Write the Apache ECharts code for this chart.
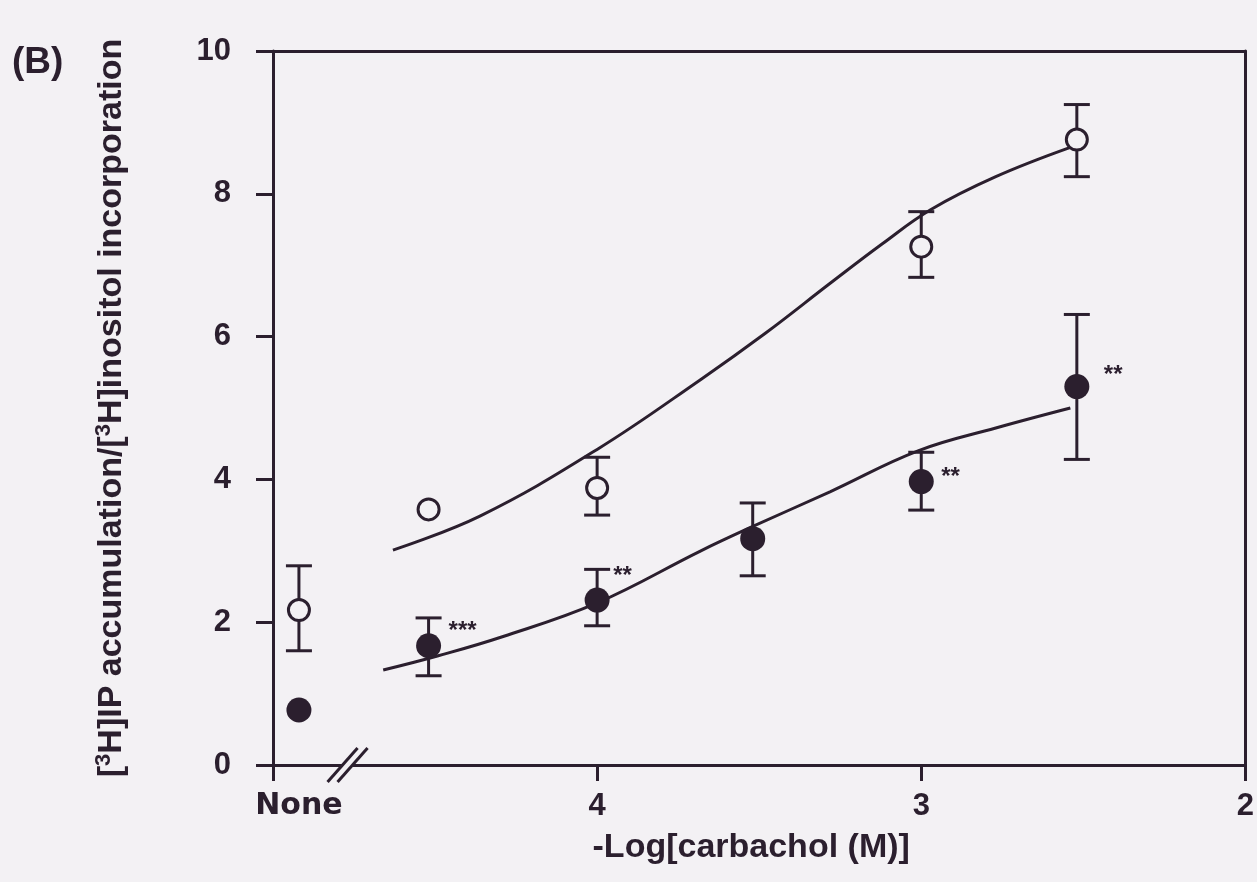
<!DOCTYPE html>
<html><head><meta charset="utf-8">
<script src="https://cdn.jsdelivr.net/npm/echarts@6/dist/echarts.min.js"></script>
<style>html,body{margin:0;padding:0;background:#f3f1f4}#c{width:1257px;height:882px}</style>
</head><body><div id="c"></div>
<script>
// ---- data ----
const xTickValues = [5, 4, 3, 2];
const xLabelValues = [4.92, 4, 3, 2];
const xLabelTexts = ['None', '4', '3', '2'];
const yTickInterval = 2;
const axisBreakAt = [4.77];

const openX = [4.92, 4.52, 4, 3, 2.52];
const openY = [2.17, 3.58, 3.88, 7.26, 8.76];
const openLow = [1.6, null, 3.5, 6.83, 8.24];
const openHigh = [2.79, null, 4.31, 7.75, 9.25];

const filledX = [4.92, 4.52, 4, 3.52, 3, 2.52];
const filledY = [0.77, 1.67, 2.31, 3.17, 3.97, 5.3];
const filledLow = [null, 1.25, 1.95, 2.65, 3.57, 4.28];
const filledHigh = [null, 2.06, 2.74, 3.67, 4.38, 6.31];
const filledSig = ['', '***', '**', '', '**', '**'];

const openCurveX = [4.63, 4.36, 4.0, 3.68, 3.48, 3.28, 3.12, 2.97, 2.77, 2.54];
const openCurveY = [3.01, 3.49, 4.42, 5.4, 6.05, 6.75, 7.3, 7.78, 8.24, 8.65];
const filledCurveX = [4.66, 4.49, 4.29, 4.0, 3.68, 3.53, 3.28, 3.01, 2.77, 2.54];
const filledCurveY = [1.33, 1.53, 1.8, 2.27, 3.0, 3.32, 3.83, 4.4, 4.72, 5.0];

// ---- style ----
const INK = '#2b1f2e';
const BG = '#f3f1f4';
const FONT = '"Liberation Sans", Arial, sans-serif';
const WIDE = '"DejaVu Sans", sans-serif';
const sigOffsets = [[0,0],[20,-14],[16,-24],[0,0],[20,-4],[27,-11]];

const pairs = (xs, ys) => xs.map((x, i) => [x, ys[i]]);
const errData = (xs, lo, hi) => xs.map((x, i) => [x, lo[i], hi[i]]).filter(d => d[1] != null);

function errRender(params, api) {
  const x = api.value(0), lo = api.value(1), hi = api.value(2);
  const a = api.coord([x, lo]), b = api.coord([x, hi]);
  const w = 13;
  const st = { stroke: INK, lineWidth: 3 };
  return { type: 'group', children: [
    { type: 'line', shape: { x1: a[0], y1: a[1], x2: b[0], y2: b[1] }, style: st },
    { type: 'line', shape: { x1: a[0]-w, y1: a[1], x2: a[0]+w, y2: a[1] }, style: st },
    { type: 'line', shape: { x1: b[0]-w, y1: b[1], x2: b[0]+w, y2: b[1] }, style: st }
  ]};
}

const chart = echarts.init(document.getElementById('c'), null, { renderer: 'canvas' });
chart.setOption({
  backgroundColor: BG,
  animation: false,
  grid: { left: 273, right: 7, top: 51, bottom: 117 },
  graphic: [{ type: 'text', left: 12, top: 44, style: { text: '(B)', font: 'bold 37px ' + FONT, fill: INK } }],
  xAxis: [{
    type: 'value', min: 2, max: 5, inverse: true, position: 'bottom',
    axisLine: { show: true, onZero: false, lineStyle: { color: INK, width: 3 } },
    axisTick: { show: true, customValues: xTickValues, length: 16, lineStyle: { color: INK, width: 3 } },
    axisLabel: { customValues: xLabelValues, margin: 26, color: INK, fontSize: 31, fontWeight: 'bold', fontFamily: FONT,
      rich: { w: { color: INK, fontSize: 30, fontWeight: 'bold', fontFamily: WIDE } },
      formatter: v => { const i = xLabelValues.findIndex(u => Math.abs(u - v) < 1e-6);
        if (i < 0) return ''; return i === 0 ? '{w|' + xLabelTexts[i] + '}' : xLabelTexts[i]; } },
    splitLine: { show: false },
    name: '-Log[carbachol (M)]', nameLocation: 'middle', nameGap: 66,
    nameTextStyle: { color: INK, fontSize: 34, fontWeight: 'bold', fontFamily: FONT, padding: [0, 16, 0, 0] }
  }, {
    type: 'value', min: 2, max: 5, inverse: true, position: 'top',
    axisLine: { show: true, onZero: false, lineStyle: { color: INK, width: 3 } },
    axisTick: { show: false }, axisLabel: { show: false }, splitLine: { show: false }
  }],
  yAxis: [{
    type: 'value', min: 0, max: 10, interval: yTickInterval,
    axisLine: { show: true, onZero: false, lineStyle: { color: INK, width: 3 } },
    axisTick: { show: true, length: 17, lineStyle: { color: INK, width: 3 } },
    axisLabel: { margin: 42, color: INK, fontSize: 31, fontWeight: 'bold', fontFamily: FONT },
    splitLine: { show: false },
    name: '{n|[}{s|3}{n|H]IP accumulation/[}{s|3}{n|H]inositol incorporation}',
    nameLocation: 'middle', nameGap: 142,
    nameTextStyle: { rich: {
      n: { color: INK, fontSize: 34, fontWeight: 'bold', fontFamily: FONT, lineHeight: 38 },
      s: { color: INK, fontSize: 22, fontWeight: 'bold', fontFamily: FONT, lineHeight: 38, verticalAlign: 'top' }
    } }
  }, {
    type: 'value', min: 0, max: 10, position: 'right',
    axisLine: { show: true, onZero: false, lineStyle: { color: INK, width: 3 } },
    axisTick: { show: false }, axisLabel: { show: false }, splitLine: { show: false }
  }],
  series: [
    { type: 'line', data: pairs(openCurveX, openCurveY), smooth: 0.4, showSymbol: false, symbol: 'none',
      lineStyle: { color: INK, width: 3 }, z: 2, silent: true },
    { type: 'line', data: pairs(filledCurveX, filledCurveY), smooth: 0.4, showSymbol: false, symbol: 'none',
      lineStyle: { color: INK, width: 3 }, z: 2, silent: true },
    { type: 'custom', data: errData(openX, openLow, openHigh), renderItem: errRender, z: 3, clip: false },
    { type: 'custom', data: errData(filledX, filledLow, filledHigh), renderItem: errRender, z: 3, clip: false },
    { type: 'scatter', data: pairs(openX, openY), symbol: 'circle', symbolSize: 21,
      itemStyle: { color: BG, borderColor: INK, borderWidth: 3, opacity: 1 }, z: 4 },
    { type: 'scatter', data: pairs(filledX, filledY), symbol: 'circle', symbolSize: 25,
      itemStyle: { color: INK, opacity: 1 }, z: 4 },
    { type: 'custom', data: filledX.map((x, i) => [x, filledY[i], i]), z: 5, clip: false,
      renderItem: (params, api) => {
        const i = api.value(2); const t = filledSig[i]; if (!t) return null;
        const p = api.coord([api.value(0), api.value(1)]);
        return { type: 'text', x: p[0] + sigOffsets[i][0], y: p[1] + sigOffsets[i][1],
          style: { text: t, font: 'bold 24px ' + FONT, fill: INK, align: 'left', verticalAlign: 'middle' } };
      } },
    { type: 'custom', data: axisBreakAt.map(x => [x, 0]), z: 6, clip: false,
      renderItem: (params, api) => {
        const p = api.coord([api.value(0), api.value(1)]);
        const st = { stroke: INK, lineWidth: 3 };
        return { type: 'group', children: [
          { type: 'rect', shape: { x: p[0]-5, y: p[1]-3, width: 10, height: 6 }, style: { fill: BG } },
          { type: 'line', shape: { x1: p[0]-20, y1: p[1]+17, x2: p[0]+10, y2: p[1]-17 }, style: st },
          { type: 'line', shape: { x1: p[0]-10, y1: p[1]+17, x2: p[0]+20, y2: p[1]-17 }, style: st }
        ]};
      } }
  ]
});
</script></body></html>
